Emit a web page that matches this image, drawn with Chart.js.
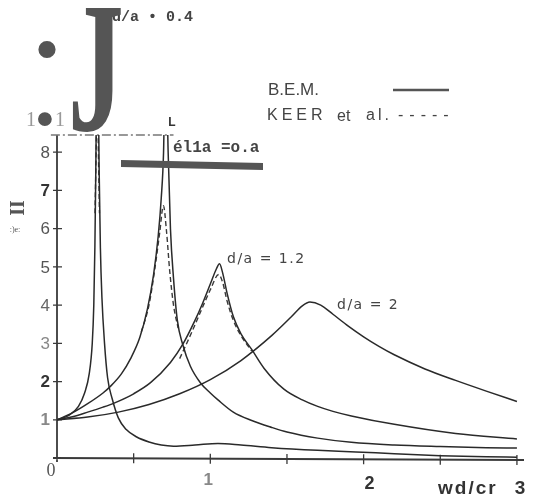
<!DOCTYPE html>
<html>
<head>
<meta charset="utf-8">
<script src="https://cdn.jsdelivr.net/npm/chart.js@4.4.1/dist/chart.umd.min.js"></script>
<style>
html,body{margin:0;padding:0;background:#fff;}
canvas{display:block;}
</style>
</head>
<body>
<canvas id="c" width="536" height="500"></canvas>
<script>
// ---- data ----
// B.E.M. curves
const bem04X = [0,0.08,0.14,0.18,0.21,0.23,0.24,0.247,0.253,0.26,0.268,0.275,0.283,0.293,0.31,0.33,0.36,0.40,0.45,0.52,0.60,0.68,0.76,0.90,1.05,1.20,1.40,1.70,1.95,2.20,2.50,2.80,3.00];
const bem04Y = [1,1.12,1.35,1.7,2.2,3.0,4.0,5.5,7.5,10,10,7.5,5.5,4.2,3.0,2.1,1.55,1.05,0.75,0.55,0.42,0.34,0.31,0.34,0.38,0.34,0.27,0.2,0.16,0.11,0.06,0.03,0.02];
const bem08X = [0,0.1,0.2,0.3,0.35,0.42,0.48,0.54,0.59,0.63,0.66,0.68,0.695,0.705,0.713,0.725,0.74,0.76,0.785,0.82,0.87,0.935,1.0,1.05,1.15,1.27,1.4,1.5,1.7,1.92,2.2,2.5,2.8,3.0];
const bem08Y = [1,1.18,1.42,1.7,1.88,2.2,2.6,3.15,3.9,4.8,5.8,6.8,8.0,10,10,8.0,6.0,4.7,3.6,2.97,2.4,1.97,1.7,1.52,1.2,0.98,0.8,0.68,0.52,0.41,0.34,0.3,0.27,0.26];
const bem12X = [0,0.1,0.2,0.3,0.38,0.5,0.61,0.74,0.82,0.9,0.95,1.0,1.04,1.06,1.08,1.11,1.15,1.2,1.27,1.35,1.48,1.6,1.7,1.8,1.92,2.2,2.6,3.0];
const bem12Y = [1,1.08,1.2,1.33,1.45,1.68,1.97,2.5,2.97,3.6,4.05,4.55,4.95,5.08,4.85,4.3,3.7,3.25,2.84,2.35,1.8,1.52,1.35,1.22,1.1,0.88,0.64,0.5];
const bem20X = [0,0.2,0.4,0.6,0.8,1.0,1.2,1.4,1.53,1.6,1.65,1.72,1.8,1.9,2.0,2.1,2.2,2.4,2.6,2.8,3.0];
const bem20Y = [1,1.07,1.2,1.4,1.68,2.05,2.55,3.2,3.7,3.98,4.08,4.0,3.76,3.45,3.17,2.92,2.7,2.33,2.03,1.75,1.48];
// KEER et al. curves (dashed)
const keer04X = [0.248,0.255,0.262,0.27,0.277];
const keer04Y = [6.4,8.0,10,8.0,6.4];
const keer08X = [0.55,0.6,0.64,0.67,0.694,0.715,0.735,0.76,0.79];
const keer08Y = [3.3,4.0,5.0,5.9,6.6,5.9,4.9,4.0,3.4];
const keer12X = [0.8,0.88,0.95,1.0,1.055,1.08,1.11,1.15,1.2,1.27];
const keer12Y = [2.6,3.3,3.95,4.4,4.8,4.6,4.1,3.6,3.2,2.8];
// tick labels
const yTickValues = [1,2,3,4,5,6,7,8];
const yTickLabels = ['1','2','3','4','5','6','7','8'];
const xTickValues = [0,1,2,3];
const xTickLabels = ['0','1','2','3'];
const xMinorTicks = [0.5,1,1.5,2,2.5,3];
const yTop = 8.45;
const xEnd = 3.02;
const topLineX = [-0.04,0.76];
const xTitle = 'wd/cr';
const yTitle = 'II';
const curveLabels = ['d/a \u2022 0.4','\u00e9l1a =o.a','d/a = 1.2','d/a = 2'];
const legendLabels = ['B.E.M.','KEER','et','al.','-----'];

function pts(xs, ys){ return xs.map((v,i)=>({x:v,y:ys[i]})); }

const solid = (xs, ys) => ({data: pts(xs,ys), borderColor:'#2a2a2a', borderWidth:1.5, pointRadius:0, fill:false, cubicInterpolationMode:'monotone'});
const dashed = (xs, ys) => ({data: pts(xs,ys), borderColor:'#3a3a3a', borderWidth:1.4, borderDash:[5,3], pointRadius:0, fill:false, cubicInterpolationMode:'monotone'});

function txt(ctx, s, x, y, font, color, align, base, spacing){
  ctx.font = font; ctx.fillStyle = color; ctx.textAlign = align||'left'; ctx.textBaseline = base||'middle';
  if (spacing){ ctx.letterSpacing = spacing + 'px'; }
  ctx.fillText(s, x, y);
  ctx.letterSpacing = '0px';
}

const deco = {
  id: 'deco',
  beforeDatasetsDraw(chart){
    const {ctx, scales:{x,y}} = chart;
    const x0 = x.getPixelForValue(0), y0 = y.getPixelForValue(0);
    ctx.save();
    ctx.strokeStyle = '#3a3a3a'; ctx.lineWidth = 1.8;
    ctx.beginPath();
    ctx.moveTo(x0, y.getPixelForValue(yTop)); ctx.lineTo(x0, y0+4);
    ctx.moveTo(x0-4, y0); ctx.lineTo(x.getPixelForValue(xEnd)+4, y0+2);
    ctx.stroke();
    ctx.lineWidth = 1.3;
    ctx.beginPath();
    yTickValues.forEach(v=>{ const p=y.getPixelForValue(v); ctx.moveTo(x0-4,p); ctx.lineTo(x0+5,p); });
    xMinorTicks.forEach(v=>{ const p=x.getPixelForValue(v); const yy=y0+2*v/3; ctx.moveTo(p,yy-5); ctx.lineTo(p,yy+5); });
    ctx.stroke();
    // dash-dot top line
    ctx.strokeStyle = '#777'; ctx.lineWidth = 1.6; ctx.setLineDash([9,3,2,3]);
    ctx.beginPath();
    const ty = y.getPixelForValue(yTop);
    ctx.moveTo(x.getPixelForValue(topLineX[0]), ty); ctx.lineTo(x.getPixelForValue(topLineX[1]), ty);
    ctx.stroke();
    ctx.setLineDash([]);
    ctx.restore();
  },
  afterDatasetsDraw(chart){
    const {ctx, scales:{x,y}} = chart;
    ctx.save();
    // y tick labels
    const yFonts = ['bold 17px "Liberation Sans"','bold 17px "Liberation Sans"','17px "Liberation Sans"','17px "Liberation Sans"','17px "Liberation Sans"','17px "Liberation Sans"','bold 17px "Liberation Sans"','17px "Liberation Sans"'];
    const yCols = ['#888','#333','#888','#666','#555','#555','#333','#555'];
    yTickValues.forEach((v,i)=>{ txt(ctx, yTickLabels[i], 50, y.getPixelForValue(v)+1, yFonts[i], yCols[i], 'right','middle'); });
    // x tick labels
    txt(ctx, xTickLabels[0], x.getPixelForValue(0)-6, 471, '18px "Liberation Serif"', '#555', 'center','middle');
    txt(ctx, xTickLabels[1], x.getPixelForValue(1)-2, 480, 'bold 17px "Liberation Sans"', '#888', 'center','middle');
    txt(ctx, xTickLabels[2], x.getPixelForValue(2)+6, 484, 'bold 18px "Liberation Sans"', '#333', 'center','middle');
    txt(ctx, xTickLabels[3], x.getPixelForValue(3)+3, 489, 'bold 19px "Liberation Sans"', '#333', 'center','middle');
    txt(ctx, xTitle, 438, 489, 'bold 19px "Liberation Sans"', '#333', 'left','middle', 2);
    // y title (rotated) and small artifact text
    ctx.save(); ctx.translate(19, 208); ctx.rotate(-Math.PI/2);
    txt(ctx, yTitle, 0, 0, 'bold 20px "Liberation Serif"', '#555', 'center','middle');
    ctx.restore();
    txt(ctx, ':)e:', 15, 230, '8px "Liberation Serif"', '#555', 'center','middle');
    // legend
    txt(ctx, legendLabels[0], 268, 90, '17px "Liberation Sans"', '#444', 'left','middle');
    ctx.strokeStyle = '#555'; ctx.lineWidth = 2.4;
    ctx.beginPath(); ctx.moveTo(393, 90); ctx.lineTo(449, 90); ctx.stroke();
    txt(ctx, legendLabels[1], 267, 116, '16px "Liberation Sans"', '#444', 'left','middle', 4);
    txt(ctx, legendLabels[2], 337, 117, '16px "Liberation Sans"', '#444', 'left','middle');
    txt(ctx, legendLabels[3], 366, 116, '16px "Liberation Sans"', '#444', 'left','middle', 3);
    txt(ctx, legendLabels[4], 398, 116, '16px "Liberation Sans"', '#444', 'left','middle', 6);
    // curve labels
    txt(ctx, curveLabels[2], 227, 259, '14px "DejaVu Sans"', '#444', 'left','middle', 1.5);
    txt(ctx, curveLabels[3], 337, 305, '14px "DejaVu Sans"', '#444', 'left','middle', 1.5);
    txt(ctx, curveLabels[0], 112, 17, 'bold 15px "Liberation Mono"', '#444', 'left','middle');
    txt(ctx, curveLabels[1], 173, 148, 'bold 16px "Liberation Mono"', '#444', 'left','middle');
    txt(ctx, 'L', 172, 123, 'bold 12px "Liberation Sans"', '#333', 'center','middle');
    // scan artifacts
    ctx.fillStyle = '#555';
    ctx.beginPath(); ctx.moveTo(121,160); ctx.lineTo(263,163); ctx.lineTo(263,170); ctx.lineTo(121,167); ctx.closePath(); ctx.fill();
    txt(ctx, '1', 31, 121, '20px "Liberation Serif"', '#999', 'center','middle');
    txt(ctx, '1', 60, 121, '20px "Liberation Serif"', '#999', 'center','middle');
    txt(ctx, '\u2022', 45, 122, 'bold 48px "Liberation Sans"', '#555', 'center','middle');
    txt(ctx, '\u2022', 47, 52, 'bold 60px "Liberation Sans"', '#555', 'center','middle');
    ctx.save(); ctx.translate(68, 130); ctx.scale(0.6, 1);
    txt(ctx, 'J', 0, 0, 'bold 186px "Liberation Serif"', '#555', 'left','alphabetic');
    ctx.restore();
    ctx.restore();
  }
};

new Chart(document.getElementById('c'), {
  type: 'line',
  data: {
    datasets: [
      solid(bem04X, bem04Y), solid(bem08X, bem08Y), solid(bem12X, bem12Y), solid(bem20X, bem20Y),
      dashed(keer04X, keer04Y), dashed(keer08X, keer08Y), dashed(keer12X, keer12Y)
    ]
  },
  options: {
    responsive: false,
    animation: false,
    layout: {padding: {left:57, right:16, top:135, bottom:42}},
    scales: {
      x: {type:'linear', min:0, max:xEnd, display:false},
      y: {type:'linear', min:0, max:yTop, display:false}
    },
    plugins: {legend:{display:false}, tooltip:{enabled:false}}
  },
  plugins: [deco]
});
</script>
</body>
</html>
